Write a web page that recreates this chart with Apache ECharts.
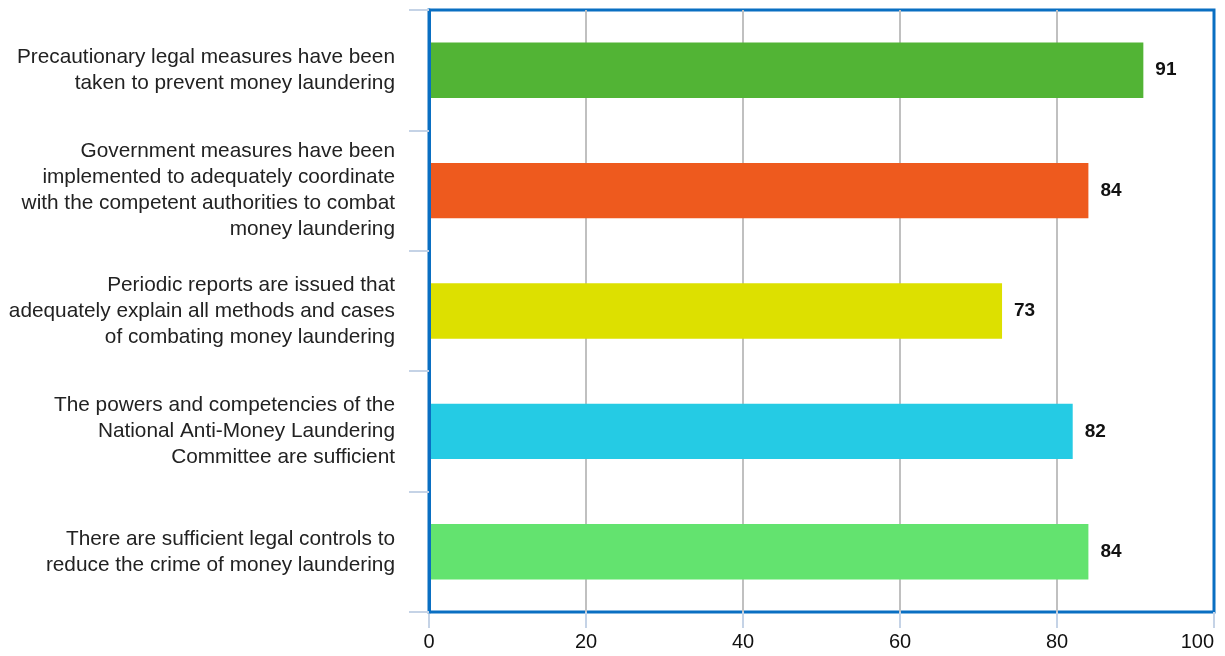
<!DOCTYPE html>
<html>
<head>
<meta charset="utf-8">
<script src="https://cdn.jsdelivr.net/npm/echarts@6/dist/echarts.min.js"></script>
<style>html,body{margin:0;padding:0;background:#fff}#chart{width:1225px;height:656px}</style>
</head>
<body>
<div id="chart"></div>
<script>
// statements, top to bottom
const categories = [
  'Precautionary legal measures have been\ntaken to prevent money laundering',
  'Government measures have been\nimplemented to adequately coordinate\nwith the competent authorities to combat\nmoney laundering',
  'Periodic reports are issued that\nadequately explain all methods and cases\nof combating money laundering',
  'The powers and competencies of the\nNational Anti-Money Laundering\nCommittee are sufficient',
  'There are sufficient legal controls to\nreduce the crime of money laundering'
];
const values = [91, 84, 73, 82, 84];
const colors = ['#52b435', '#ee5a1e', '#dde000', '#25cbe4', '#63e36f'];
const xTicks = [0, 20, 40, 60, 80, 100];

const chart = echarts.init(document.getElementById('chart'), null, { renderer: 'canvas' });

chart.setOption({
  animation: false,
  grid: {
    left: 429, right: 11, top: 10, bottom: 44,
    outerBoundsMode: 'none', containLabel: false,
    show: true, borderColor: '#0a6fc2', borderWidth: 3, backgroundColor: 'transparent'
  },
  xAxis: {
    type: 'value', min: xTicks[0], max: xTicks[xTicks.length - 1], interval: 20,
    axisLine: { show: false },
    axisTick: { show: true, length: 16, lineStyle: { color: '#c5d3e6', width: 2 } },
    axisLabel: {
      color: '#111', fontSize: 20, fontFamily: 'Liberation Sans', margin: 20,
      alignMaxLabel: 'right'
    },
    splitLine: { show: true, showMinLine: false, showMaxLine: false, lineStyle: { color: '#c0c0c0', width: 2 } }
  },
  yAxis: {
    type: 'category', data: categories, inverse: true, z: 5,
    axisLine: { show: true, lineStyle: { color: '#0a6fc2', width: 3 } },
    axisTick: { show: true, length: 20, lineStyle: { color: '#c5d3e6', width: 2 } },
    axisLabel: {
      color: '#222', fontSize: 20.8, fontFamily: 'Liberation Sans',
      lineHeight: 26, margin: 34, align: 'right', padding: [14, 0, 0, 0]
    },
    splitLine: { show: false }
  },
  series: [{
    type: 'bar',
    data: values.map((v, i) => ({ value: v, itemStyle: { color: colors[i] } })),
    barWidth: '46%',
    label: {
      show: true, position: 'right', distance: 12,
      color: '#111', fontSize: 19, fontWeight: 'bold', fontFamily: 'Liberation Sans'
    }
  }]
});
</script>
</body>
</html>
